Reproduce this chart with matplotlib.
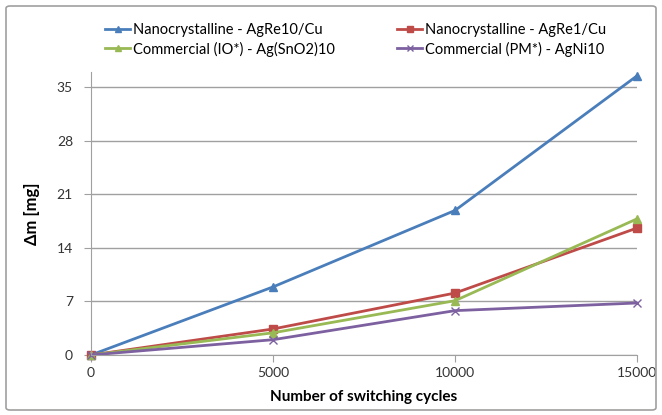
import matplotlib
matplotlib.use('Agg')
import matplotlib.pyplot as plt
from matplotlib.patches import FancyBboxPatch

plt.rcParams['font.family'] = ['Lato', 'DejaVu Sans']

cycles = [0, 5000, 10000, 15000]
agre10 = [0, 8.9, 18.9, 36.5]
agre1 = [0, 3.4, 8.1, 16.6]
agsno2 = [0, 2.9, 7.1, 17.8]
agni10 = [0, 2.0, 5.8, 6.8]

labels = ['Nanocrystalline - AgRe10/Cu', 'Nanocrystalline - AgRe1/Cu',
          'Commercial (IO*) - Ag(SnO2)10', 'Commercial (PM*) - AgNi10']

fig = plt.figure(figsize=(6.62, 4.15), dpi=100)
ax = fig.add_axes([91/662, 1-355/415, (637-91)/662, (355-72)/415])

border = FancyBboxPatch((6/662, 5/415), 650/662, 404/415, boxstyle='round,pad=0,rounding_size=0.006',
                        transform=fig.transFigure, fill=False, ec='#a0a0a0', lw=1.2)
fig.patches.append(border)

l1, = ax.plot(cycles, agre10, color='#4a7ebb', lw=2, marker='^', ms=6, clip_on=False)
l2, = ax.plot(cycles, agre1, color='#be4b48', lw=2, marker='s', ms=5.5, clip_on=False)
l3, = ax.plot(cycles, agsno2, color='#98b954', lw=2, marker='^', ms=6, clip_on=False)
l4, = ax.plot(cycles, agni10, color='#7d60a0', lw=2, marker='x', ms=6, mew=1, clip_on=False)

ax.set_xlim(0, 15000)
ax.set_ylim(0, 37)
ax.set_xticks(cycles)
ax.set_yticks([0, 7, 14, 21, 28, 35])
ax.yaxis.grid(True, color='#a0a0a0', lw=1)
ax.set_axisbelow(True)
for s in ['top', 'right']:
    ax.spines[s].set_visible(False)
for s in ['left', 'bottom']:
    ax.spines[s].set_color('#a0a0a0')
ax.tick_params(axis='both', colors='#a0a0a0', labelcolor='#333333', labelsize=10, length=5)
ax.tick_params(axis='y', length=5, pad=8)

ax.set_xlabel('Number of switching cycles', fontsize=11, fontweight='bold', labelpad=8)
ax.set_ylabel('Δm [mg]', fontsize=12, fontweight='bold', labelpad=12)

# legend is filled column by column, so order gives the rows of the reference
fig.legend([l1, l3, l2, l4], [labels[0], labels[2], labels[1], labels[3]],
           loc='upper left', bbox_to_anchor=(92/662, 1-10/415),
           ncol=2, frameon=False, fontsize=10.5, handlelength=1.7, handletextpad=0.2,
           columnspacing=4.3, labelspacing=0.3, markerscale=0.8)

fig.savefig('out.png', dpi=100)
